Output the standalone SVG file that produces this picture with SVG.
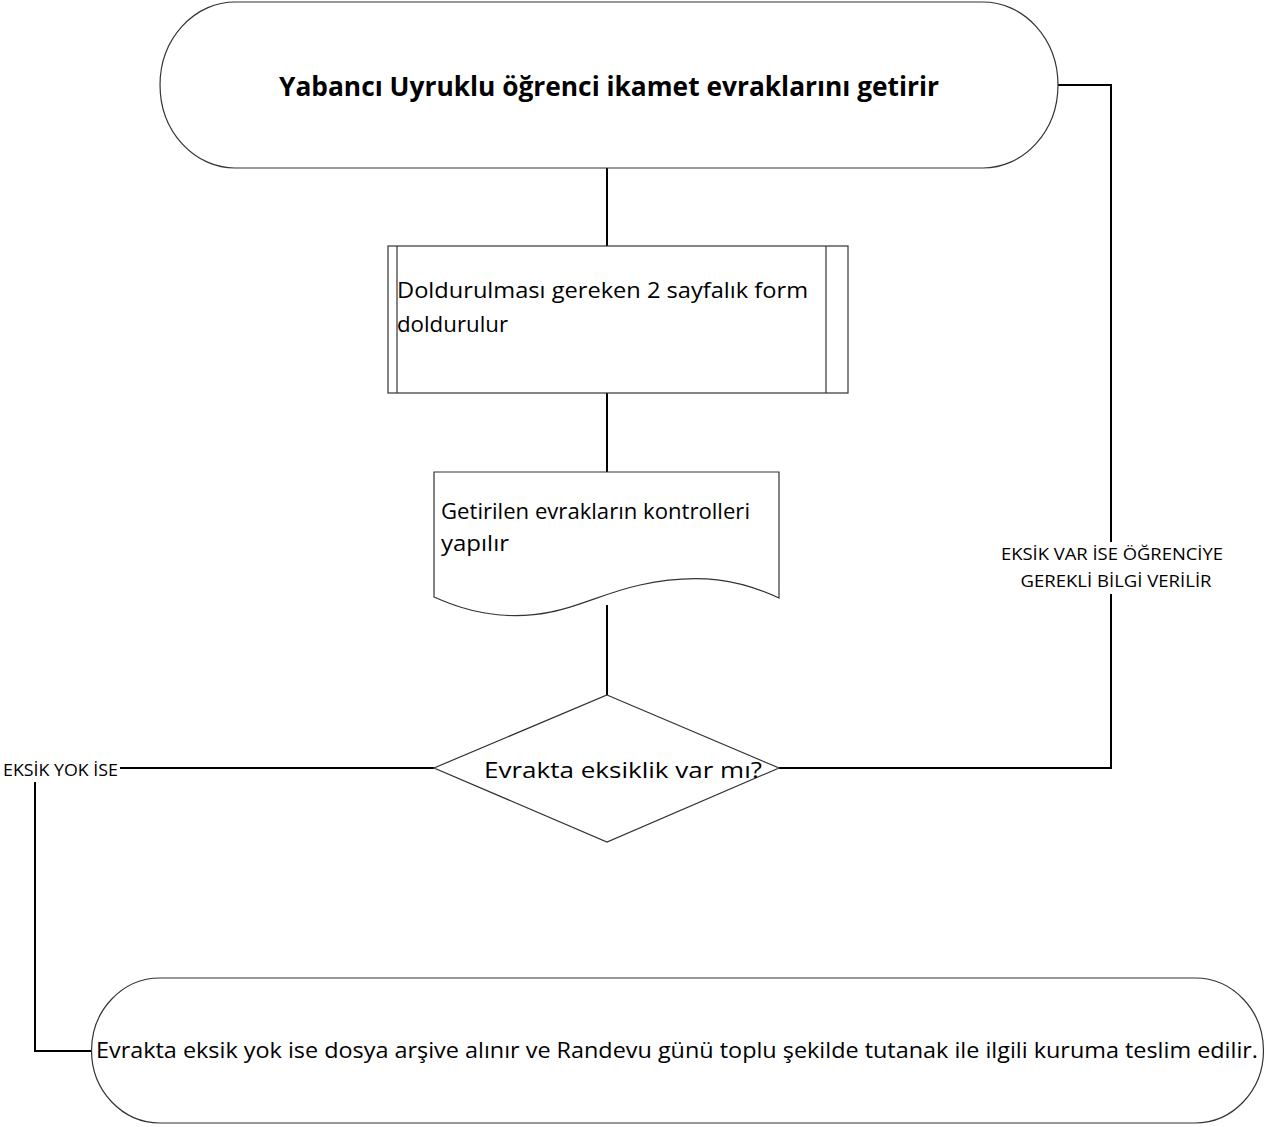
<svg xmlns="http://www.w3.org/2000/svg" width="1269" height="1127" viewBox="0 0 1269 1127">
<style>
.shape{fill:#fff;stroke:#333;stroke-width:1.2}
.conn{fill:none;stroke:#000;stroke-width:2}
text{font-family:"Open Sans","Noto Sans","Liberation Sans",sans-serif;fill:#000}
.t22{font-size:22.5px}
.t21{font-size:21px}
.t16{font-size:17px}
</style>
<rect width="1269" height="1127" fill="#fff"/>
<g id="connectors">
<line class="conn" x1="607" y1="168" x2="607" y2="246"/>
<line class="conn" x1="607" y1="393" x2="607" y2="472"/>
<line class="conn" x1="607" y1="605" x2="607" y2="695"/>
<polyline class="conn" points="779,768 1111,768 1111,85 1058,85"/>
<line class="conn" x1="434" y1="768" x2="120" y2="768"/>
<polyline class="conn" points="35,782 35,1051 93,1051"/>
<rect x="998" y="542" width="228" height="52" fill="#fff"/>
<text class="t16" x="1112" y="560" text-anchor="middle" textLength="222" lengthAdjust="spacingAndGlyphs">EKSİK VAR İSE ÖĞRENCİYE</text>
<text class="t16" x="1116" y="587" text-anchor="middle" textLength="191" lengthAdjust="spacingAndGlyphs">GEREKLİ BİLGİ VERİLİR</text>
<text class="t16" x="3" y="776" textLength="115" lengthAdjust="spacingAndGlyphs">EKSİK YOK İSE</text>
</g>
<g id="start">
<path class="shape" d="M235 2 H983 A75 83 0 0 1 983 168 H235 A75 83 0 0 1 235 2 Z"/>
<text x="609" y="96" text-anchor="middle" font-size="26" font-weight="bold" textLength="660" lengthAdjust="spacingAndGlyphs">Yabancı Uyruklu öğrenci ikamet evraklarını getirir</text>
</g>
<g id="process">
<rect class="shape" x="388" y="246" width="460" height="147"/>
<line class="shape" x1="397" y1="246" x2="397" y2="393"/>
<line class="shape" x1="826" y1="246" x2="826" y2="393"/>
<text class="t22" x="397" y="298" textLength="411" lengthAdjust="spacingAndGlyphs">Doldurulması gereken 2 sayfalık form</text>
<text class="t22" x="397" y="332" textLength="111" lengthAdjust="spacingAndGlyphs">doldurulur</text>
</g>
<g id="document">
<path class="shape" d="M434 472 H779 V598 C740 580 700 572 640 585 C590 596 560 620 500 615 C470 612 450 604 434 597 Z"/>
<text class="t22" x="441" y="519" textLength="309" lengthAdjust="spacingAndGlyphs">Getirilen evrakların kontrolleri</text>
<text class="t22" x="441" y="551" textLength="68" lengthAdjust="spacingAndGlyphs">yapılır</text>
</g>
<g id="decision">
<polygon class="shape" points="607,695 779,768 607,842 434,768"/>
<text class="t21" x="484" y="778" textLength="278" lengthAdjust="spacingAndGlyphs">Evrakta eksiklik var mı?</text>
</g>
<g id="end">
<path class="shape" d="M160 978 H1195 A68 72 0 0 1 1195 1123 H160 A68 72 0 0 1 160 978 Z"/>
<text class="t21" x="96" y="1058" textLength="1162" lengthAdjust="spacingAndGlyphs">Evrakta eksik yok ise dosya arşive alınır ve Randevu günü toplu şekilde tutanak ile ilgili kuruma teslim edilir.</text>
</g>
</svg>
